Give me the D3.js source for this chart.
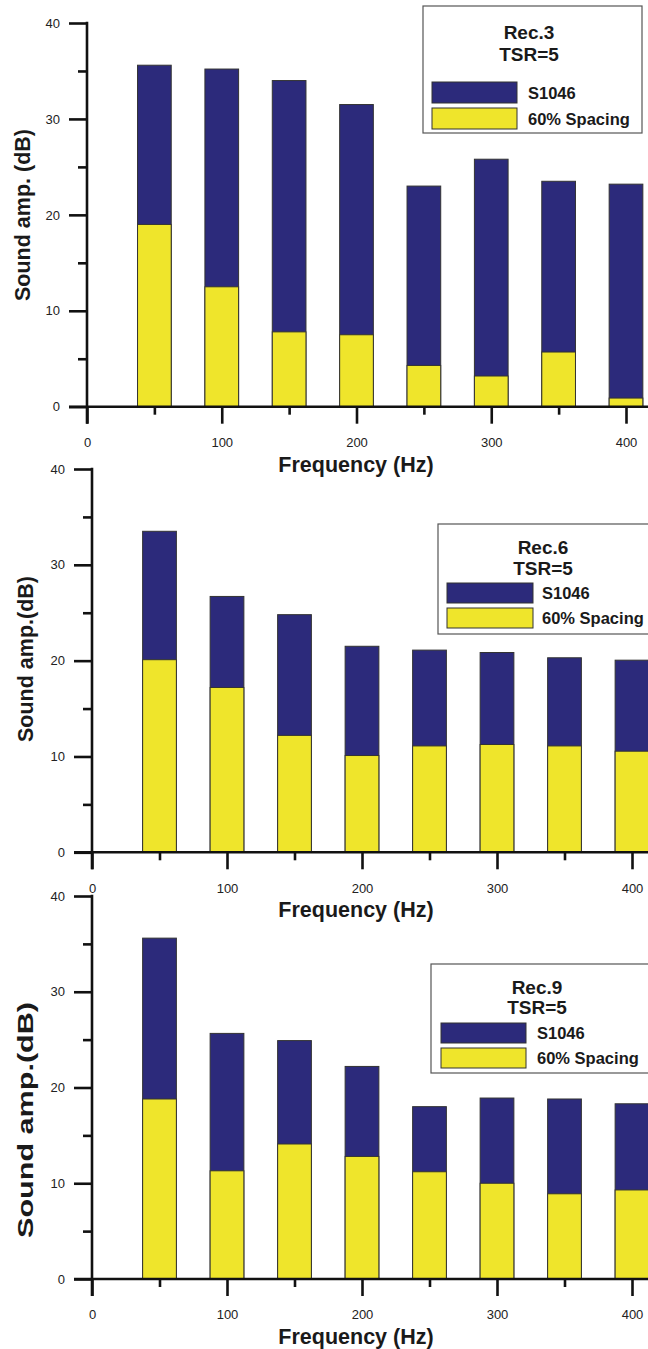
<!DOCTYPE html>
<meta charset="utf-8">
<style>
    body { margin: 0; background: #fff; }
    text { font-family: Arial, "Liberation Sans", sans-serif; fill: #1a1a1a; }
</style>
<script src="https://d3js.org/d3.v7.min.js"></script>
<body>
<div id="chart"></div>
<script>
    // Data
    var freqs = [50, 100, 150, 200, 250, 300, 350, 400];
    var xTicks = [0, 100, 200, 300, 400];
    var xMinor = [50, 150, 250, 350];
    var yTicks = [0, 10, 20, 30, 40];
    var yMinor = [5, 15, 25, 35];
    var seriesNames = ["S1046", "60% Spacing"];

    var rec3S1046   = [35.6, 35.2, 34.0, 31.5, 23.0, 25.8, 23.5, 23.2];
    var rec3Spacing = [19.0, 12.5, 7.8, 7.5, 4.3, 3.2, 5.7, 0.9];
    var rec6S1046   = [33.5, 26.7, 24.8, 21.5, 21.1, 20.85, 20.3, 20.05];
    var rec6Spacing = [20.1, 17.2, 12.2, 10.1, 11.1, 11.25, 11.1, 10.55];
    var rec9S1046   = [35.6, 25.65, 24.9, 22.2, 18.0, 18.9, 18.8, 18.3];
    var rec9Spacing = [18.8, 11.3, 14.1, 12.8, 11.2, 10.0, 8.9, 9.3];

    var colors = {"S1046": "#2c2a7b", "60% Spacing": "#efe52b"};

    // layout of each panel (pixels)
    var panels = [
        {title: ["Rec.3", "TSR=5"], s: rec3S1046, p: rec3Spacing, ylab: "Sound amp. (dB)", ylabLen: null,
         left: 87, right: 626, top: 23, bottom: 406.7, ylabX: 22, ylabY: 215,
         leg: {x: 423, y: 6, w: 219, h: 127, t1: 39, t2: 61, sw1: 82, sw2: 108, swX: 432, swW: 85, swH: 21, cx: 529, tx: 528}},
        {title: ["Rec.6", "TSR=5"], s: rec6S1046, p: rec6Spacing, ylab: "Sound amp.(dB)", ylabLen: null,
         left: 92, right: 632, top: 469, bottom: 852.3, ylabX: 25, ylabY: 659,
         leg: {x: 438, y: 524, w: 215, h: 110, t1: 554, t2: 575, sw1: 583, sw2: 608, swX: 447, swW: 86, swH: 20, cx: 543, tx: 542}},
        {title: ["Rec.9", "TSR=5"], s: rec9S1046, p: rec9Spacing, ylab: "Sound amp.(dB)", ylabLen: 236,
         left: 92, right: 632, top: 896, bottom: 1279, ylabX: 25, ylabY: 1120,
         leg: {x: 431, y: 964, w: 220, h: 109, t1: 994, t2: 1014, sw1: 1023, sw2: 1048, swX: 441, swW: 85, swH: 20, cx: 537, tx: 537}}
    ];

    var svg = d3.select("#chart").append("svg")
        .attr("width", 648)
        .attr("height", 1349);

    panels.forEach(function (pn) {
        var g = svg.append("g");

        var x = d3.scaleLinear().domain([0, 400]).range([pn.left, pn.right]);
        var y = d3.scaleLinear().domain([0, 40]).range([pn.bottom, pn.top]);
        var half = 12.5; // half bar width in Hz

        // S1046 bars (full height), 60% spacing drawn in front
        g.selectAll("rect.s")
            .data(freqs)
            .enter().append("rect")
            .attr("x", function (d) { return x(d - half); })
            .attr("width", function (d) { return x(d + half) - x(d - half); })
            .attr("y", function (d, i) { return y(pn.s[i]); })
            .attr("height", function (d, i) { return y(0) - y(pn.s[i]); })
            .style("fill", colors["S1046"])
            .style("stroke", "#333")
            .style("stroke-width", 1);

        g.selectAll("rect.p")
            .data(freqs)
            .enter().append("rect")
            .attr("x", function (d) { return x(d - half); })
            .attr("width", function (d) { return x(d + half) - x(d - half); })
            .attr("y", function (d, i) { return y(pn.p[i]); })
            .attr("height", function (d, i) { return y(0) - y(pn.p[i]); })
            .style("fill", colors["60% Spacing"])
            .style("stroke", "#333")
            .style("stroke-width", 1);

        // X axis
        var xAx = g.append("g")
            .attr("transform", "translate(0," + y(0) + ")")
            .call(d3.axisBottom(x).tickValues(xTicks).tickSize(17).tickPadding(14).tickSizeOuter(0));
        xAx.append("g").call(d3.axisBottom(x).tickValues(xMinor).tickSize(8).tickFormat(""));

        // Y axis
        var yAx = g.append("g")
            .attr("transform", "translate(" + x(0) + ",0)")
            .call(d3.axisLeft(y).tickValues(yTicks).tickSize(18).tickPadding(9).tickSizeOuter(0));
        yAx.append("g").call(d3.axisLeft(y).tickValues(yMinor).tickSize(9).tickFormat(""));

        g.selectAll(".domain").remove();
        g.selectAll(".tick line").style("stroke", "#111").style("stroke-width", 2.6);
        g.selectAll(".tick text").style("font-size", "13px").style("font-family", "Arial, 'Liberation Sans', sans-serif").style("fill", "#222");

        // axis lines
        g.append("line")
            .attr("x1", x(0) - 18).attr("x2", 648)
            .attr("y1", y(0)).attr("y2", y(0))
            .style("stroke", "#111").style("stroke-width", 2.6);
        g.append("line")
            .attr("x1", x(0)).attr("x2", x(0))
            .attr("y1", y(40) - 1.3).attr("y2", y(0) + 17)
            .style("stroke", "#111").style("stroke-width", 2.6);

        // axis titles
        g.append("text")
            .attr("x", 356)
            .attr("y", y(0) + 65)
            .style("text-anchor", "middle")
            .style("font-size", "21.5px")
            .style("font-weight", "bold")
            .text("Frequency (Hz)");

        var yl = g.append("text")
            .attr("transform", "translate(" + (pn.ylabX + 7.5) + "," + pn.ylabY + ") rotate(-90)")
            .style("text-anchor", "middle")
            .style("font-size", "21.5px")
            .style("font-weight", "bold")
            .text(pn.ylab);
        if (pn.ylabLen) {
            yl.attr("textLength", pn.ylabLen).attr("lengthAdjust", "spacingAndGlyphs");
        }

        // legend box
        var L = pn.leg;
        g.append("rect")
            .attr("x", L.x).attr("y", L.y)
            .attr("width", L.w).attr("height", L.h)
            .style("fill", "#fff")
            .style("stroke", "#555")
            .style("stroke-width", 1.2);
        g.append("text").attr("x", L.cx).attr("y", L.t1)
            .style("text-anchor", "middle").style("font-size", "19px").style("font-weight", "bold")
            .text(pn.title[0]);
        g.append("text").attr("x", L.cx).attr("y", L.t2)
            .style("text-anchor", "middle").style("font-size", "19px").style("font-weight", "bold")
            .text(pn.title[1]);

        var swY = [L.sw1, L.sw2];
        g.selectAll("rect.sw")
            .data(seriesNames)
            .enter().append("rect")
            .attr("x", L.swX)
            .attr("y", function (d, i) { return swY[i]; })
            .attr("width", L.swW)
            .attr("height", L.swH)
            .style("fill", function (d) { return colors[d]; })
            .style("stroke", "#333")
            .style("stroke-width", 1);
        g.selectAll("text.lg")
            .data(seriesNames)
            .enter().append("text")
            .attr("x", L.tx)
            .attr("y", function (d, i) { return swY[i] + L.swH / 2 + 6; })
            .style("font-size", "16.5px")
            .style("font-weight", "bold")
            .text(function (d) { return d; });
    });
</script>
</body>
